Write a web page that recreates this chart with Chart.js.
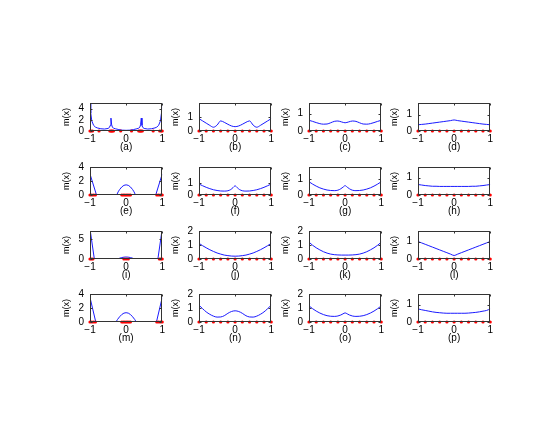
<!DOCTYPE html>
<html><head><meta charset="utf-8">
<script src="https://cdn.jsdelivr.net/npm/chart.js@4"></script>
<style>
html,body{margin:0;padding:0;background:#fff;width:553px;height:438px;overflow:hidden;position:relative}
canvas{position:absolute}
</style></head><body>
<script>
// ---------- data ----------
const panelLabels = ['(a)','(b)','(c)','(d)','(e)','(f)','(g)','(h)','(i)','(j)','(k)','(l)','(m)','(n)','(o)','(p)'];
const xTicks = [-1, 0, 1];
const yTickSets = [[0,2,4],[0,1],[0,1],[0,1],[0,2,4],[0,1],[0,1],[0,1],[0,5],[0,1,2],[0,1,2],[0,1],[0,2,4],[0,1,2],[0,1,2],[0,1]];
const yMaxes = [5,2,1.6,1.7,4,2.3,1.8,1.6,7,2,2,1.6,4,2,2,1.6];
const xGrid = [-1,-0.9,-0.8,-0.7,-0.6,-0.5,-0.4,-0.3,-0.2,-0.1,0,0.1,0.2,0.3,0.4,0.5,0.6,0.7,0.8,0.9,1];
const xCusp = [-1,-0.9,-0.8,-0.7,-0.6,-0.5,-0.4,-0.3,-0.2,-0.12,-0.06,0,0.06,0.12,0.2,0.3,0.4,0.5,0.6,0.7,0.8,0.9,1];

const xa = [-1,-0.98,-0.95,-0.9,-0.85,-0.8,-0.7,-0.6,-0.5,-0.46,-0.44,-0.42,-0.4,-0.38,-0.35,-0.3,-0.2,-0.1,0,0.1,0.2,0.3,0.35,0.38,0.4,0.42,0.44,0.46,0.5,0.6,0.7,0.8,0.85,0.9,0.95,0.98,1];
const ya = [6,3.2,1.8,1.0,0.7,0.55,0.4,0.35,0.45,0.65,1.0,2.3,1.1,0.7,0.5,0.4,0.25,0.15,0.12,0.15,0.25,0.4,0.5,0.7,1.1,2.3,1.0,0.65,0.45,0.35,0.4,0.55,0.7,1.0,1.8,3.2,6];
const yb = [0.88,0.72,0.56,0.4,0.27,0.42,0.72,0.62,0.48,0.36,0.31,0.36,0.48,0.62,0.72,0.42,0.27,0.4,0.56,0.72,0.88];
const yc = [0.61,0.55,0.48,0.42,0.39,0.4,0.47,0.55,0.57,0.52,0.47,0.52,0.57,0.55,0.47,0.4,0.39,0.42,0.48,0.55,0.61];
const yd = [0.38,0.4,0.42,0.45,0.48,0.51,0.54,0.57,0.6,0.63,0.67,0.63,0.6,0.57,0.54,0.51,0.48,0.45,0.42,0.4,0.38];
const xe = [-1,-0.82,-0.26,-0.22,-0.18,-0.12,-0.06,0,0.06,0.12,0.18,0.22,0.26,0.82,1];
const ye = [3.0,0,0,0.45,0.78,1.15,1.38,1.45,1.38,1.15,0.78,0.45,0,0,3.0];
const yf = [0.9,0.76,0.63,0.52,0.43,0.37,0.33,0.32,0.35,0.45,0.6,0.75,0.6,0.45,0.35,0.32,0.33,0.37,0.43,0.52,0.63,0.76,0.9];
const yg = [0.85,0.7,0.57,0.46,0.38,0.32,0.29,0.28,0.31,0.4,0.5,0.6,0.5,0.4,0.31,0.28,0.29,0.32,0.38,0.46,0.57,0.7,0.85];
const yh = [0.6,0.57,0.54,0.52,0.5,0.5,0.49,0.49,0.49,0.49,0.49,0.49,0.49,0.49,0.49,0.5,0.5,0.52,0.54,0.57,0.6];
const xi = [-1,-0.88,-0.22,-0.18,-0.12,-0.06,0,0.06,0.12,0.18,0.22,0.88,1];
const yi = [7.5,0,0,0.2,0.36,0.46,0.5,0.46,0.36,0.2,0,0,7.5];
const yj = [1.12,0.95,0.8,0.66,0.54,0.43,0.35,0.28,0.24,0.21,0.2,0.21,0.24,0.28,0.35,0.43,0.54,0.66,0.8,0.95,1.12];
const yk = [1.2,0.98,0.8,0.65,0.52,0.42,0.35,0.31,0.29,0.28,0.28,0.28,0.29,0.31,0.35,0.42,0.52,0.65,0.8,0.98,1.2];
const yl = [1.0,0.92,0.84,0.76,0.68,0.6,0.52,0.44,0.36,0.28,0.2,0.28,0.36,0.44,0.52,0.6,0.68,0.76,0.84,0.92,1.0];
const xm = [-1,-0.84,-0.28,-0.24,-0.18,-0.12,-0.06,0,0.06,0.12,0.18,0.24,0.28,0.84,1];
const ym = [3.5,0,0,0.35,0.75,1.07,1.27,1.33,1.27,1.07,0.75,0.35,0,0,3.5];
const yn = [1.2,0.95,0.72,0.55,0.42,0.35,0.36,0.45,0.62,0.75,0.8,0.75,0.62,0.45,0.36,0.35,0.42,0.55,0.72,0.95,1.2];
const yo = [1.15,0.95,0.78,0.64,0.53,0.45,0.41,0.4,0.43,0.5,0.58,0.65,0.58,0.5,0.43,0.4,0.41,0.45,0.53,0.64,0.78,0.95,1.15];
const yp = [0.75,0.7,0.66,0.62,0.58,0.55,0.53,0.51,0.5,0.5,0.5,0.5,0.5,0.5,0.51,0.53,0.55,0.58,0.62,0.66,0.75];

const nodesEven = [-1,-0.8,-0.6,-0.4,-0.2,0,0.2,0.4,0.6,0.8,1];
const nodesA = [-1,-0.97,-0.93,-0.75,-0.45,-0.42,-0.4,-0.38,-0.35,-0.15,0.15,0.35,0.38,0.4,0.42,0.45,0.75,0.93,0.97,1];
const nodesE = [-1,-0.95,-0.9,-0.85,-0.12,-0.08,-0.04,0,0.04,0.08,0.12,0.85,0.9,0.95,1];
const nodesI = [-1,-0.96,-0.92,-0.06,0,0.06,0.92,0.96,1];
const nodesM = [-1,-0.95,-0.9,-0.85,-0.12,-0.08,-0.04,0,0.04,0.08,0.12,0.85,0.9,0.95,1];

// ---------- layout ----------
const colLeft = [90,199,309,418];
const rowTop = [95,159,223,286];
const plotW = 73, plotH = 36, axW = 32, axH = 22, padT = 4, padR = 4;

const curves = [
  [xa,ya,nodesA,false],[xGrid,yb,nodesEven,true],[xGrid,yc,nodesEven,true],[xGrid,yd,nodesEven,true],
  [xe,ye,nodesE,false],[xCusp,yf,nodesEven,true],[xCusp,yg,nodesEven,true],[xGrid,yh,nodesEven,true],
  [xi,yi,nodesI,false],[xGrid,yj,nodesEven,true],[xGrid,yk,nodesEven,true],[xGrid,yl,nodesEven,true],
  [xm,ym,nodesM,false],[xGrid,yn,nodesEven,true],[xCusp,yo,nodesEven,true],[xGrid,yp,nodesEven,true]
];

function fmt(v){ return v < 0 ? '\u2212' + Math.abs(v) : String(v); }

const framePlugin = {
  id: 'frame',
  afterDraw(chart){
    const {ctx, chartArea: a, scales} = chart;
    ctx.save();
    ctx.strokeStyle = '#333';
    ctx.lineWidth = 1;
    const L = Math.round(a.left)+0.5, R = Math.round(a.right)-0.5, T = Math.round(a.top)+0.5, B = Math.round(a.bottom)-0.5;
    ctx.strokeRect(L, T, R-L, B-T);
    ctx.beginPath();
    scales.x.ticks.forEach(t => {
      const px = Math.round(scales.x.getPixelForValue(t.value)) + 0.5;
      ctx.moveTo(px, T); ctx.lineTo(px, T+2);
    });
    scales.y.ticks.forEach(t => {
      const py = Math.round(scales.y.getPixelForValue(t.value)) + 0.5;
      ctx.moveTo(L, py); ctx.lineTo(L+2, py);
      ctx.moveTo(R, py); ctx.lineTo(R-2, py);
    });
    ctx.stroke();
    ctx.restore();
  }
};

const font = {family: '"Liberation Sans", Arial, sans-serif', size: 10};

panelLabels.forEach((label, i) => {
  const r = Math.floor(i/4), c = i % 4;
  const [xs, ys, nodes, smooth] = curves[i];
  const cv = document.createElement('canvas');
  const W = axW + plotW + padR, H = padT + plotH + axH;
  cv.width = W; cv.height = H;
  cv.style.width = W + 'px'; cv.style.height = H + 'px';
  cv.style.left = (colLeft[c] - axW) + 'px';
  cv.style.top = (rowTop[r] - padT) + 'px';
  document.body.appendChild(cv);
  const yTicks = yTickSets[i];
  new Chart(cv, {
    type: 'scatter',
    data: { datasets: [
      { data: nodes.map(x => ({x, y: 0})), showLine: false, pointRadius: 1.6, pointBackgroundColor: '#ff0000', pointBorderColor: '#ff0000', pointBorderWidth: 0, clip: false },
      { data: xs.map((x, k) => ({x, y: ys[k]})), showLine: true, borderColor: '#1a1aff', borderWidth: 1, pointRadius: 0,
        tension: smooth ? 0.4 : 0, cubicInterpolationMode: smooth ? 'monotone' : 'default' }
    ]},
    options: {
      responsive: false, animation: false, devicePixelRatio: 1, events: [],
      layout: { padding: { top: padT, right: padR, left: 0, bottom: 0 } },
      plugins: { legend: { display: false }, tooltip: { enabled: false } },
      scales: {
        x: {
          type: 'linear', min: -1, max: 1,
          afterBuildTicks: s => { s.ticks = xTicks.map(v => ({value: v})); },
          afterFit: s => { s.height = axH; },
          grid: { display: false, drawTicks: false, tickLength: 0 }, border: { display: false },
          ticks: { padding: 2, color: '#000', font, callback: v => fmt(v), maxRotation: 0, autoSkip: false },
          title: { display: true, text: label, padding: 0, color: '#000', font }
        },
        y: {
          type: 'linear', min: 0, max: yMaxes[i],
          afterBuildTicks: s => { s.ticks = yTicks.map(v => ({value: v})); },
          afterFit: s => { s.width = axW; },
          grid: { display: false, drawTicks: false, tickLength: 0 }, border: { display: false },
          ticks: { padding: 6, color: '#000', font, callback: v => fmt(v), autoSkip: false },
          title: { display: true, text: 'm(x)', padding: {top: 3, bottom: 0}, color: '#000', font: {family: font.family, size: 9} }
        }
      }
    },
    plugins: [framePlugin]
  });
});
</script>
</body></html>
